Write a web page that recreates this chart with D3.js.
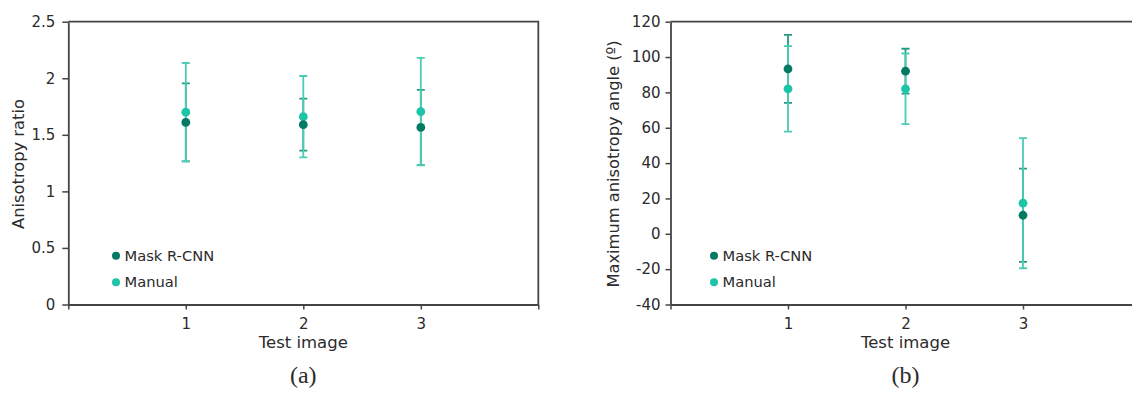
<!DOCTYPE html>
<html>
<head>
<meta charset="utf-8">
<script src="https://cdn.jsdelivr.net/npm/d3@7/dist/d3.min.js"></script>
<style>
  html, body { margin: 0; padding: 0; background: #fff; }
  svg { display: block; }
  text { font-family: "DejaVu Sans", sans-serif; fill: #2b2b2b; }
</style>
</head>
<body>
<svg id="chart" width="1132" height="397"></svg>
<script>
// Test images on the x axis
const categories = [1, 2, 3];
const xTicks = [0, 1, 2, 3, 4];
const xTickLabels = ["", "1", "2", "3", ""];

// (a) anisotropy ratio: mean and standard deviation
const ratioMask = [1.61, 1.59, 1.565];
const ratioMaskErr = [0.345, 0.23, 0.333];
const ratioManual = [1.70, 1.66, 1.705];
const ratioManualErr = [0.435, 0.36, 0.475];
const ratioTicks = [0, 0.5, 1, 1.5, 2, 2.5];
const ratioTickLabels = ["0", "0.5", "1", "1.5", "2", "2.5"];

// (b) maximum anisotropy angle in degrees
const angleMask = [93.3, 92.0, 10.5];
const angleMaskErr = [19.2, 12.7, 26.4];
const angleManual = [82.0, 82.0, 17.3];
const angleManualErr = [24.2, 20.0, 36.8];
const angleTicks = [-40, -20, 0, 20, 40, 60, 80, 100, 120];

const seriesNames = ["Mask R-CNN", "Manual"];
const dotColors = ["#047a65", "#1cc4a8"];
const barColors = ["#249a86", "#4ccbb6"];

const svg = d3.select("#chart");

function drawPanel(cfg) {
  const g = svg.append("g");
  const x = d3.scaleLinear().domain([0, 4]).range([cfg.left, cfg.left + 470]);
  const y = d3.scaleLinear().domain(cfg.yDomain).range([304.5, 21.7]);

  // frame: top and right border
  g.append("path")
    .attr("d", `M${x(0)},${y(cfg.yDomain[1])}H${x(4)}V${y(cfg.yDomain[0])}`)
    .attr("fill", "none").attr("stroke", "#444").attr("stroke-width", 1.8);

  const yAxis = g.append("g")
    .attr("transform", `translate(${x(0)},0)`)
    .call(d3.axisLeft(y).tickValues(cfg.yTicks).tickFormat((d, i) => cfg.yLabels[i])
      .tickSize(cfg.yTickSize).tickPadding(cfg.yPad).tickSizeOuter(0));
  const xAxis = g.append("g")
    .attr("transform", `translate(0,${y(cfg.yDomain[0])})`)
    .call(d3.axisBottom(x).tickValues(xTicks).tickFormat((d, i) => xTickLabels[i])
      .tickSize(5).tickPadding(8.5).tickSizeOuter(0));
  [xAxis, yAxis].forEach(a => {
    a.select(".domain").attr("stroke", "#444").attr("stroke-width", 1.8);
    a.selectAll(".tick line").attr("stroke", "#444").attr("stroke-width", 1.5);
    a.selectAll(".tick text").attr("font-size", "15px").attr("fill", "#2b2b2b")
      .attr("font-family", "DejaVu Sans, sans-serif");
  });

  // error bars: Mask R-CNN first, Manual on top
  const series = [
    { vals: cfg.mask, errs: cfg.maskErr, i: 0 },
    { vals: cfg.manual, errs: cfg.manualErr, i: 1 }
  ];
  const cap = 4;
  series.forEach(s => {
    const eb = g.append("g").attr("stroke", barColors[s.i]).attr("stroke-width", 1.8)
      .attr("fill", "none");
    eb.selectAll("path").data(categories).join("path")
      .attr("d", (c, k) => {
        const cx = x(c), hi = y(s.vals[k] + s.errs[k]), lo = y(s.vals[k] - s.errs[k]);
        return `M${cx},${hi}V${lo}M${cx - cap},${hi}H${cx + cap}M${cx - cap},${lo}H${cx + cap}`;
      });
  });
  // mean markers
  [series[1], series[0]].forEach(s => {
    g.append("g").selectAll("circle").data(categories).join("circle")
      .attr("cx", c => x(c))
      .attr("cy", (c, k) => y(s.vals[k]))
      .attr("r", 4.4)
      .attr("fill", dotColors[s.i]);
  });

  // legend
  const lg = g.append("g");
  seriesNames.forEach((name, i) => {
    const ly = 255.7 + i * 26.5;
    lg.append("circle").attr("cx", cfg.legendX).attr("cy", ly).attr("r", 4)
      .attr("fill", dotColors[i]);
    lg.append("text").attr("x", cfg.legendX + 8.5).attr("y", ly + 5)
      .attr("font-size", "14.7px").text(name);
  });

  // axis titles
  g.append("text").attr("x", x(2)).attr("y", 348)
    .attr("text-anchor", "middle").attr("font-size", "16.5px").text("Test image");
  g.append("text")
    .attr("transform", `translate(${cfg.yTitleX},164) rotate(-90)`)
    .attr("text-anchor", "middle").attr("font-size", "16.3px").text(cfg.yTitle);

  // panel caption
  g.append("text").attr("x", x(2)).attr("y", 383)
    .attr("text-anchor", "middle")
    .style("font-family", "'Liberation Serif', 'Times New Roman', serif")
    .attr("font-size", "24px").text(cfg.caption);
}

drawPanel({
  left: 68.3,
  yDomain: [0, 2.5],
  yTicks: ratioTicks,
  yLabels: ratioTickLabels,
  yTickSize: 6, yPad: 7,
  mask: ratioMask, maskErr: ratioMaskErr,
  manual: ratioManual, manualErr: ratioManualErr,
  legendX: 116,
  yTitle: "Anisotropy ratio",
  yTitleX: 24,
  caption: "(a)"
});

drawPanel({
  left: 670.5,
  yDomain: [-40, 120],
  yTicks: angleTicks,
  yLabels: angleTicks.map(String),
  yTickSize: 5, yPad: 5,
  mask: angleMask, maskErr: angleMaskErr,
  manual: angleManual, manualErr: angleManualErr,
  legendX: 714,
  yTitle: "Maximum anisotropy angle (º)",
  yTitleX: 619,
  caption: "(b)"
});
</script>
</body>
</html>
